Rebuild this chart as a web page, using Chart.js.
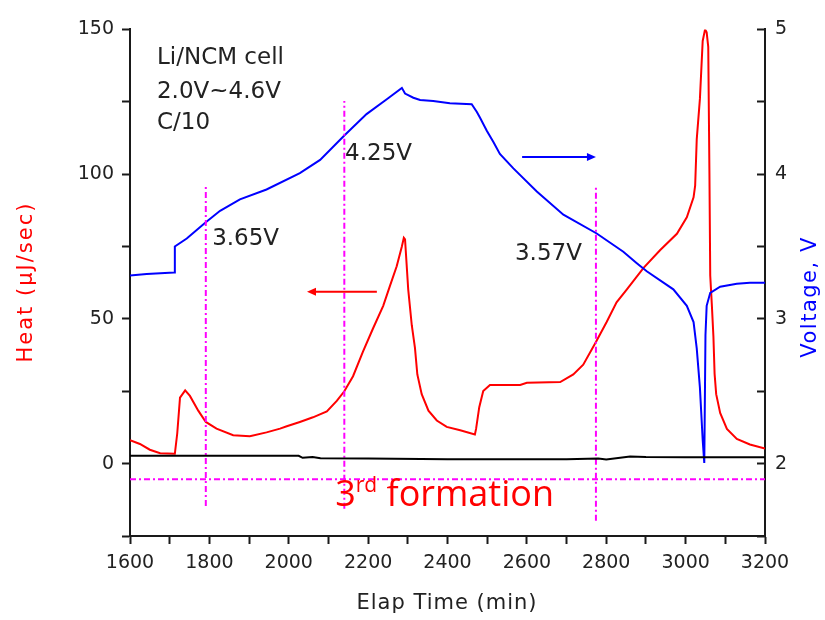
<!DOCTYPE html>
<html lang="en">
<head>
  <meta charset="UTF-8" />
  <title>Li/NCM cell - 3rd formation heat</title>
  <script src="https://cdn.jsdelivr.net/npm/chart.js"></script>
  <style>
    body {
      margin: 0;
      background: #ffffff;
    }
    .wrap {
      width: 825px;
      height: 620px;
      position: relative;
    }
  </style>
</head>
<body>
  <div class="wrap">
    <canvas id="heatChart"></canvas>
  </div>

  <script>
    // heat flow (red, left axis)
    const heatTime = [1600, 1625, 1650, 1676, 1713, 1719, 1726, 1739, 1751, 1772, 1791, 1818, 1860, 1902, 1944,
      1978, 1995, 2028, 2061, 2096, 2121, 2140, 2162, 2187, 2212, 2238, 2255, 2272, 2285, 2290, 2293,
      2301, 2310, 2318, 2324, 2335, 2352, 2373, 2398, 2432, 2469, 2472, 2480, 2490, 2507, 2583, 2600,
      2684, 2717, 2742, 2774, 2801, 2826, 2852, 2894, 2936, 2978, 3003, 3020, 3024, 3028, 3036, 3043,
      3049, 3053, 3057, 3060, 3062, 3066, 3070, 3073, 3077, 3087, 3104, 3129, 3162, 3200];
    const heatValue = [8.1, 6.8, 4.8, 3.6, 3.4, 10.4, 22.8, 25.3, 23.4, 18.3, 14.4, 12.1, 9.8, 9.5, 10.8,
      12.1, 12.9, 14.4, 16, 18, 21.7, 25, 30.2, 38.7, 46.6, 54.5, 61.4, 68.2, 75, 78, 77.5,
      60.2, 47.8, 40, 30.8, 24, 18.3, 14.9, 12.7, 11.5, 10.1, 12, 19.5, 25.1, 27.2, 27.2, 27.9,
      28.2, 30.8, 34.2, 42, 48.9, 55.7, 60.2, 67.6, 73.8, 79.4, 85.1, 92, 96, 112, 126, 146,
      150, 149, 144, 100, 65, 55, 44, 31, 24, 17.5, 12, 8.5, 6.6, 5.2];

    // cell voltage (blue, right axis)
    const voltTime = [1600, 1642, 1711, 1713, 1743, 1791, 1827, 1877, 1944, 2028, 2079, 2140, 2196, 2247, 2285,
      2293, 2314, 2331, 2364, 2406, 2461, 2474, 2482, 2499, 2516, 2532, 2566, 2625, 2692, 2776, 2843,
      2877, 2902, 2969, 3003, 3020, 3028, 3036, 3043, 3047, 3050, 3053, 3062, 3087, 3129, 3162, 3200];
    const voltValue = [3.30, 3.31, 3.32, 3.50, 3.555, 3.668, 3.747, 3.826, 3.894, 4.007, 4.098, 4.267, 4.415, 4.517, 4.596,
      4.557, 4.528, 4.512, 4.505, 4.49, 4.483, 4.43, 4.39, 4.30, 4.22, 4.14, 4.04, 3.88, 3.72, 3.59, 3.464,
      3.385, 3.329, 3.204, 3.09, 2.978, 2.796, 2.525, 2.163, 2.005, 2.887, 3.09, 3.18, 3.222, 3.242, 3.249, 3.25];

    // black baseline near zero
    const baseTime = [1600, 2025, 2035, 2060, 2080, 2200, 2400, 2700, 2780, 2800, 2860, 2900, 3000, 3200];
    const baseValue = [2.7, 2.7, 2.0, 2.3, 1.9, 1.8, 1.5, 1.5, 1.8, 1.4, 2.5, 2.3, 2.2, 2.2];

    // magenta guide lines
    const guideTime = [1791, 2140, 2774];
    const guideTop = [95.7, 125.3, 95.4];
    const guideBottom = [-14.6, -15.6, -19.7];
    const formationLevel = -5.4;

    // tick labels
    const timeTicks = [1600, 1800, 2000, 2200, 2400, 2600, 2800, 3000, 3200];
    const heatTicks = [0, 50, 100, 150];
    const voltTicks = [2, 3, 4, 5];

    const pts = (xs, ys) => xs.map((x, i) => ({ x: x, y: ys[i] }));
    const tickFont = { family: 'DejaVu Sans', size: 19 };
    const axisBlack = '#1a1a1a';
    const guideDash = [6, 3, 2, 3];

    const datasets = [
      {
        data: pts(baseTime, baseValue),
        borderColor: '#000000',
        borderWidth: 2,
        yAxisID: 'y'
      },
      {
        data: [{ x: 1600, y: formationLevel }, { x: 3200, y: formationLevel }],
        borderColor: '#ff00ff',
        borderWidth: 2,
        borderDash: guideDash,
        yAxisID: 'y'
      }
    ];
    guideTime.forEach((t, i) => {
      datasets.push({
        data: [{ x: t, y: guideBottom[i] }, { x: t, y: guideTop[i] }],
        borderColor: '#ff00ff',
        borderWidth: 2,
        borderDash: guideDash,
        yAxisID: 'y'
      });
    });
    datasets.push({
      data: pts(voltTime, voltValue),
      borderColor: '#0000ff',
      borderWidth: 2,
      yAxisID: 'y2'
    });
    datasets.push({
      data: pts(heatTime, heatValue),
      borderColor: '#ff0000',
      borderWidth: 2,
      yAxisID: 'y'
    });

    function arrow(ctx, x1, x2, y, color) {
      const dir = Math.sign(x2 - x1);
      ctx.strokeStyle = color;
      ctx.fillStyle = color;
      ctx.lineWidth = 2;
      ctx.beginPath();
      ctx.moveTo(x1, y);
      ctx.lineTo(x2 - dir * 6, y);
      ctx.stroke();
      ctx.beginPath();
      ctx.moveTo(x2, y);
      ctx.lineTo(x2 - dir * 9, y - 4);
      ctx.lineTo(x2 - dir * 9, y + 4);
      ctx.closePath();
      ctx.fill();
    }

    const notes = {
      id: 'notes',
      afterDatasetsDraw(chart) {
        const ctx = chart.ctx;
        const xs = chart.scales.x;
        const ys = chart.scales.y;
        const px = t => xs.getPixelForValue(t);
        const py = h => ys.getPixelForValue(h);

        ctx.save();
        ctx.font = '23px "DejaVu Sans"';
        ctx.fillStyle = '#222';
        ctx.textAlign = 'left';
        ctx.textBaseline = 'alphabetic';
        ctx.fillText('Li/NCM cell', px(1668), py(138.2));
        ctx.fillText('2.0V~4.6V', px(1668), py(126.3));
        ctx.fillText('C/10', px(1668), py(115.7));
        ctx.fillText('4.25V', px(2142), py(104.9));
        ctx.fillText('3.65V', px(1807), py(75.4));
        ctx.fillText('3.57V', px(2570), py(70.3));

        // 3rd formation
        ctx.fillStyle = '#ff0000';
        ctx.font = '36px "Open Sans"';
        let x = px(2117);
        const base = py(-14.6);
        ctx.fillText('3', x, base);
        x += ctx.measureText('3').width;
        ctx.font = '21px "Open Sans"';
        ctx.fillText('rd', x, base - 14);
        x += ctx.measureText('rd').width;
        ctx.font = '36px "Open Sans"';
        ctx.fillText(' formation', x, base);

        arrow(ctx, px(2222), px(2046), py(59.4), '#ff0000');
        arrow(ctx, px(2588), px(2774), py(105.9), '#0000ff');

        // axis titles
        ctx.font = '21px "DejaVu Sans"';
        ctx.textAlign = 'center';
        ctx.textBaseline = 'middle';
        ctx.letterSpacing = '2px';
        ctx.fillStyle = '#ff0000';
        ctx.translate(27, 282);
        ctx.rotate(-Math.PI / 2);
        ctx.fillText('Heat (μJ/sec)', 0, 0);
        ctx.setTransform(1, 0, 0, 1, 0, 0);
        ctx.letterSpacing = '1.5px';
        ctx.fillStyle = '#0000ff';
        ctx.translate(811, 297);
        ctx.rotate(-Math.PI / 2);
        ctx.fillText('Voltage, V', 0, 0);
        ctx.setTransform(1, 0, 0, 1, 0, 0);
        ctx.letterSpacing = '1px';
        ctx.fillStyle = '#222';
        ctx.fillText('Elap Time (min)', 447, 604);
        ctx.restore();
      }
    };

    new Chart(document.getElementById('heatChart'), {
      type: 'line',
      data: { datasets: datasets },
      options: {
        responsive: true,
        maintainAspectRatio: false,
        animation: false,
        layout: { padding: { top: 22 } },
        elements: {
          point: { radius: 0 },
          line: { tension: 0 }
        },
        plugins: {
          legend: { display: false },
          tooltip: { enabled: false }
        },
        scales: {
          x: {
            type: 'linear',
            min: 1600,
            max: 3200,
            ticks: {
              stepSize: 100,
              autoSkip: false,
              maxRotation: 0,
              font: tickFont,
              color: '#222',
              padding: 8,
              callback: v => timeTicks.includes(v) ? String(v) : ''
            },
            grid: { drawOnChartArea: false, tickLength: 8, tickColor: axisBlack, tickWidth: 2 },
            border: { color: axisBlack, width: 2 },
            afterFit: s => { s.height = 84; }
          },
          y: {
            position: 'left',
            min: -25,
            max: 150,
            ticks: {
              stepSize: 25,
              autoSkip: false,
              font: tickFont,
              color: '#222',
              padding: 8,
              callback: v => heatTicks.includes(v) ? String(v) : ''
            },
            grid: { drawOnChartArea: false, tickLength: 8, tickColor: axisBlack, tickWidth: 2 },
            border: { color: axisBlack, width: 2 },
            afterFit: s => { s.width = 130; }
          },
          y2: {
            position: 'right',
            min: 1.5,
            max: 5,
            ticks: {
              stepSize: 0.5,
              autoSkip: false,
              font: tickFont,
              color: '#222',
              padding: 18,
              callback: v => voltTicks.includes(v) ? String(v) : ''
            },
            grid: { drawOnChartArea: false, tickLength: -8, tickColor: axisBlack, tickWidth: 2 },
            border: { color: axisBlack, width: 2 },
            afterFit: s => { s.width = 60; }
          }
        }
      },
      plugins: [notes]
    });
  </script>
</body>
</html>
